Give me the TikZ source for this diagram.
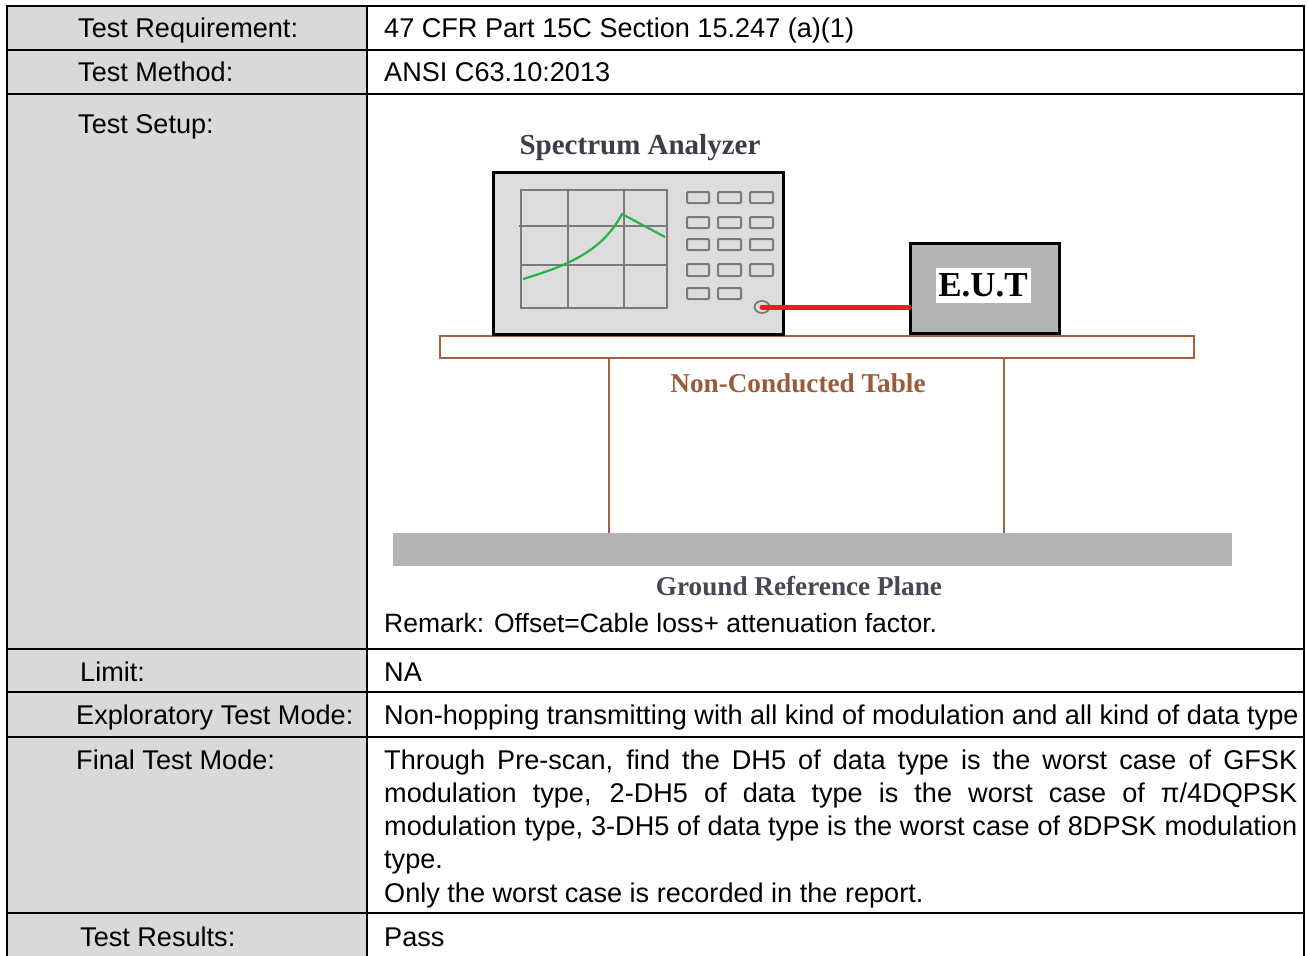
\documentclass[tikz,border=0pt]{standalone}
\usepackage{fontspec}
\usetikzlibrary{shapes.geometric}
\setmainfont{Liberation Sans}
\newfontfamily\serifb{Liberation Serif}
\definecolor{cellgray}{RGB}{217,217,217}
\definecolor{anafill}{RGB}{221,221,221}
\definecolor{gridgray}{RGB}{122,122,122}
\definecolor{curvegreen}{RGB}{40,178,72}
\definecolor{cablered}{RGB}{237,28,36}
\definecolor{eutfill}{RGB}{180,180,180}
\definecolor{tbrown}{RGB}{166,94,62}
\definecolor{tbtext}{RGB}{155,90,58}
\definecolor{satext}{RGB}{62,60,74}
\definecolor{grtext}{RGB}{72,72,84}
\definecolor{planegray}{RGB}{180,180,180}
\begin{document}
\begin{tikzpicture}[x=1pt,y=-1pt,
  lbl/.style={anchor=base west,inner sep=0pt,font=\fontsize{27.1}{33}\selectfont},
  gridln/.style={draw=gridgray,line width=2pt},
  btn/.style={draw=gridgray,line width=2pt,fill=anafill,rounded corners=1pt},
  rulex/.style={line width=2.2pt,black},
  brownln/.style={draw=tbrown,line width=2.5pt},
  figt/.style={font=\serifb\bfseries\fontsize{27.2}{30}\selectfont,inner sep=0pt}]
\useasboundingbox (0,0) rectangle (1308,955);
\fill[white] (0,0) rectangle (1308,955);
% table
\fill[cellgray] (7,6) rectangle (367,960);
\draw[rulex] (7,6) rectangle (1304,962);
\draw[rulex] (367,6) -- (367,962);
\foreach \yy in {50,94,649,692,737,913} \draw[rulex] (7,\yy) -- (1304,\yy);
% left labels
\node[lbl] (l1) at (78,37.5) {Test Requirement:};
\node[lbl] (l2) at (78,81.5) {Test Method:};
\node[lbl] (l3) at (78,134) {Test Setup:};
\node[lbl] (l4) at (80,681) {Limit:};
\node[lbl] (l5) at (76,724.5) {Exploratory Test Mode:};
\node[lbl] (l6) at (76,769.5) {Final Test Mode:};
\node[lbl] (l7) at (80,946) {Test Results:};
% right texts
\node[lbl] (r1) at (384,37.5) {47 CFR Part 15C Section 15.247 (a)(1)};
\node[lbl] (r2) at (384,81.5) {ANSI C63.10:2013};
\node[lbl,font=\fontsize{26.5}{32}\selectfont] (rem) at (384,632) {Remark: Offset=Cable loss+ attenuation factor.};
\node[lbl] (r4) at (384,681) {NA};
\node[lbl] (r5) at (384,724.5) {Non-hopping transmitting with all kind of modulation and all kind of data type};
\node[lbl] (f1) at (384,769.5) {\makebox[913pt][s]{Through Pre-scan, find the DH5 of data type is the worst case of GFSK}};
\node[lbl] (f2) at (384,802.5) {\makebox[913pt][s]{modulation type, 2-DH5 of data type is the worst case of π/4DQPSK}};
\node[lbl] (f3) at (384,835.5) {\makebox[913pt][s]{modulation type, 3-DH5 of data type is the worst case of 8DPSK modulation}};
\node[lbl] (f4) at (384,868.5) {type.};
\node[lbl] (f5) at (384,902.5) {Only the worst case is recorded in the report.};
\node[lbl] (r7) at (384,946) {Pass};
% ground plane
\fill[planegray] (393,533) rectangle (1232,566);
% table legs and top
\draw[brownln] (609,358) -- (609,533);
\draw[brownln] (1004,358) -- (1004,533);
\draw[brownln,fill=white] (440,336) rectangle (1194,358);
% spectrum analyzer
\draw[line width=3pt,fill=anafill] (493,172) rectangle (783,334);
\draw[gridln] (521,190) rectangle (667,308);
\draw[gridln] (568,190) -- (568,308);
\draw[gridln] (624,190) -- (624,308);
\draw[gridln] (519,226) -- (667,226);
\draw[gridln] (521,265) -- (667,265);
\draw[curvegreen,line width=2.2pt] (523,279) .. controls (570,265) and (603,250) .. (622,214) -- (665,237);
\foreach \ya/\yb in {192/203,217/228,239/250,264/276}{
  \foreach \xa/\xb in {687/709,718/741,750/773}{
    \draw[btn] (\xa,\ya) rectangle (\xb,\yb);
  }
}
\draw[btn] (687,288) rectangle (709,299);
\draw[btn] (718,288) rectangle (741,299);
\node[draw=gridgray,line width=1.8pt,fill=anafill,ellipse,minimum width=15pt,minimum height=12pt,inner sep=0pt] (conn) at (762,307) {};
% EUT
\node[draw=black,line width=3pt,fill=eutfill,minimum width=149pt,minimum height=90pt,inner sep=0pt,anchor=north west] (eut) at (909,242) {};
\node[fill=white,minimum width=95pt,minimum height=35pt,inner sep=0pt,font=\serifb\bfseries\fontsize{35}{38}\selectfont] (eutl) at (983,285.5) {E.U.T};
\draw[cablered,line width=5pt,line cap=round] (conn.center) -- (eut.west |- conn.center);
% figure labels
\node[figt,text=satext,font=\serifb\bfseries\fontsize{29}{32}\selectfont] (sa) at (640,148) {Spectrum Analyzer};
\node[figt,text=tbtext] (nct) at (798,383) {Non-Conducted Table};
\node[figt,text=grtext] (grp) at (799,586) {Ground Reference Plane};
\end{tikzpicture}
\end{document}
